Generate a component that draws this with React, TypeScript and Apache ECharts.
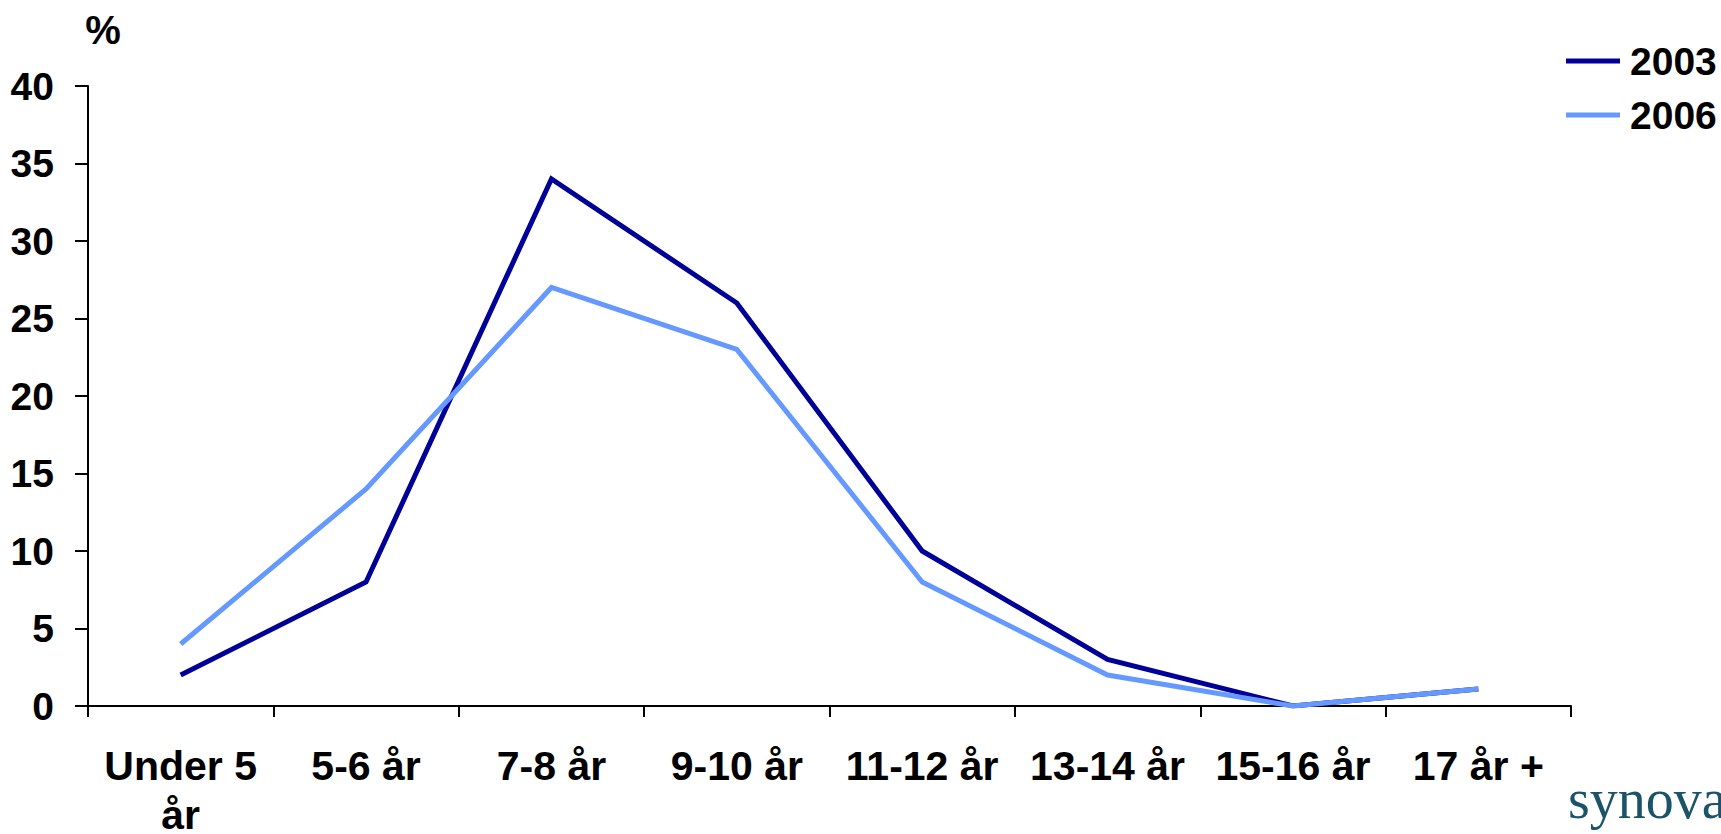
import React, { useEffect, useRef } from "react";
import * as echarts from "echarts";

const categories = ["Under 5\når", "5-6 år", "7-8 år", "9-10 år", "11-12 år", "13-14 år", "15-16 år", "17 år +"];
const values2003 = [2, 8, 34, 26, 10, 3, 0, 1.1];
const values2006 = [4, 14, 27, 23, 8, 2, 0, 1.1];
const yTicks = { min: 0, max: 40, interval: 5 };

const FONT = "'Liberation Sans', Arial, sans-serif";

export default function App() {
  const ref = useRef<HTMLDivElement>(null);
  useEffect(() => {
    document.body.style.margin = "0";
    document.body.style.overflow = "hidden";
    if (!ref.current) return;
    const chart = echarts.init(ref.current, undefined, { renderer: "svg" });
    chart.setOption({
      animation: false,
      backgroundColor: "#ffffff",
      grid: { left: 88, right: 150, top: 86, bottom: 128, containLabel: false, outerBoundsMode: "none" },
      legend: {
        orient: "vertical",
        left: 1566,
        top: 41,
        padding: 0,
        itemWidth: 54,
        itemHeight: 5,
        itemGap: 14,
        icon: "rect",
        textStyle: { fontFamily: FONT, fontWeight: "bold", fontSize: 39, color: "#000", lineHeight: 40, padding: [0, 0, 0, 5] },
        data: ["2003", "2006"],
      },
      xAxis: {
        type: "category",
        data: categories,
        boundaryGap: true,
        axisLine: { lineStyle: { color: "#000", width: 2 } },
        axisTick: { show: true, length: 11, lineStyle: { color: "#000", width: 2 }, alignWithLabel: false },
        axisLabel: {
          interval: 0,
          margin: 35,
          fontFamily: FONT,
          fontWeight: "bold",
          fontSize: 41,
          lineHeight: 49,
          color: "#000",
        },
      },
      yAxis: {
        type: "value",
        min: yTicks.min,
        max: yTicks.max,
        interval: yTicks.interval,
        name: "%",
        nameLocation: "end",
        nameGap: 36,
        nameTextStyle: { fontFamily: FONT, fontWeight: "bold", fontSize: 40, color: "#000", align: "center", padding: [0, 0, 0, 30] },
        splitLine: { show: false },
        axisLine: { show: true, lineStyle: { color: "#000", width: 2 } },
        axisTick: { show: true, length: 13, lineStyle: { color: "#000", width: 2 } },
        axisLabel: { margin: 34, fontFamily: FONT, fontWeight: "bold", fontSize: 39, color: "#000" },
      },
      series: [
        {
          name: "2003",
          type: "line",
          data: values2003,
          showSymbol: false,
          symbol: "none",
          lineStyle: { color: "#000099", width: 5, join: "miter" },
          itemStyle: { color: "#000099" },
        },
        {
          name: "2006",
          type: "line",
          data: values2006,
          showSymbol: false,
          symbol: "none",
          lineStyle: { color: "#6699FF", width: 5, join: "miter" },
          itemStyle: { color: "#6699FF" },
        },
      ],
      graphic: [
        {
          type: "text",
          left: 1568,
          top: 771,
          style: {
            text: "synova",
            fontFamily: "'Liberation Serif', 'DejaVu Serif', serif",
            fontSize: 56,
            fill: "#1b5468",
          },
        },
      ],
    });
    return () => chart.dispose();
  }, []);
  return (
    <div style={{ width: 1721, height: 834, position: "fixed", left: 0, top: 0, overflow: "hidden", background: "#fff" }}>
      <div ref={ref} style={{ width: 1721, height: 834 }} />
    </div>
  );
}
